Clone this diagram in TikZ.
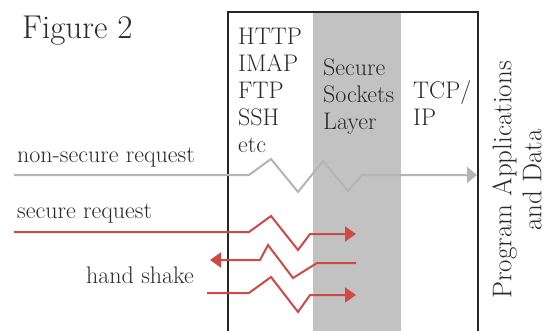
\documentclass[tikz,border=0pt]{standalone}
\usepackage{fontspec}
\usepackage{xcolor}
\usepackage{tikz}
\usetikzlibrary{arrows.meta}
\usetikzlibrary{positioning}

\definecolor{inkgray}{HTML}{2A2A2A}
\definecolor{bandgray}{HTML}{C2C2C2}
\definecolor{plaingray}{HTML}{B4B4B4}
\definecolor{securered}{HTML}{D04848}

\begin{document}
\begin{tikzpicture}[x=1pt,y=-1pt,
    label/.style={inner sep=0pt,text=inkgray,font=\fontsize{24}{27}\selectfont,align=left},
    plain/.style={draw=plaingray,line width=2pt,-{Triangle[length=10pt,width=16pt]}},
    secure/.style={draw=securered,line width=2pt,-{Triangle[length=11pt,width=15pt]}}]
            \useasboundingbox (0,0) rectangle (548,331);
            % the layers
            \fill[bandgray] (313,12) rectangle (401,331);
            \draw[line width=1.6pt,draw=black!85] (228,331) -- (228,12) -- (478,12) -- (478,331);
            \node[label,anchor=base west,font=\fontsize{33}{38}\selectfont] (title) at (22,39) {Figure 2};
            \node[label,anchor=north west] (protocols) at (238,28) {HTTP\\IMAP\\FTP\\SSH\\etc};
            \node[label,anchor=north west] (ssl) at (323,59) {Secure\\Sockets\\Layer};
            \node[label,anchor=north west] (tcpip) at (413,80) {TCP/\\IP};
            \node[label,align=center,rotate=90,font=\fontsize{27}{30}\selectfont] (apps) at (517,180) {Program Applications\\and Data};
            \node[label,anchor=base west] (nonsecure) at (17,163) {non-secure request};
            \node[label,anchor=base west] (securereq) at (17,218) {secure request};
            \node[label,anchor=base west] (handshake) at (86,283) {hand shake};
            % the requests
            \coordinate (ns-in) at (14,175);
            \coordinate (ns-out) at (477,175);
            \coordinate (sr-in) at (14,232);
            \coordinate (sr-out) at (356,234);
            \coordinate (hs-from) at (356,263);
            \coordinate (hs-back) at (210,260);
            \coordinate (hs-in) at (207,293);
            \coordinate (hs-out) at (356,295);
            \draw[plain] (ns-in) -- (249,175) -- (271,159) -- (298,192) -- (323,161) -- (348,191) -- (362,175) -- (ns-out);
            \draw[secure] (sr-in) -- (249,232) -- (271,216) -- (298,250) -- (310,234) -- (sr-out);
            \draw[secure] (hs-from) -- (317,263) -- (293,278) -- (268,245) -- (260,260) -- (hs-back);
            \draw[secure] (hs-in) -- (249,293) -- (271,277) -- (298,312) -- (310,295) -- (hs-out);
          \end{tikzpicture}
\end{document}
